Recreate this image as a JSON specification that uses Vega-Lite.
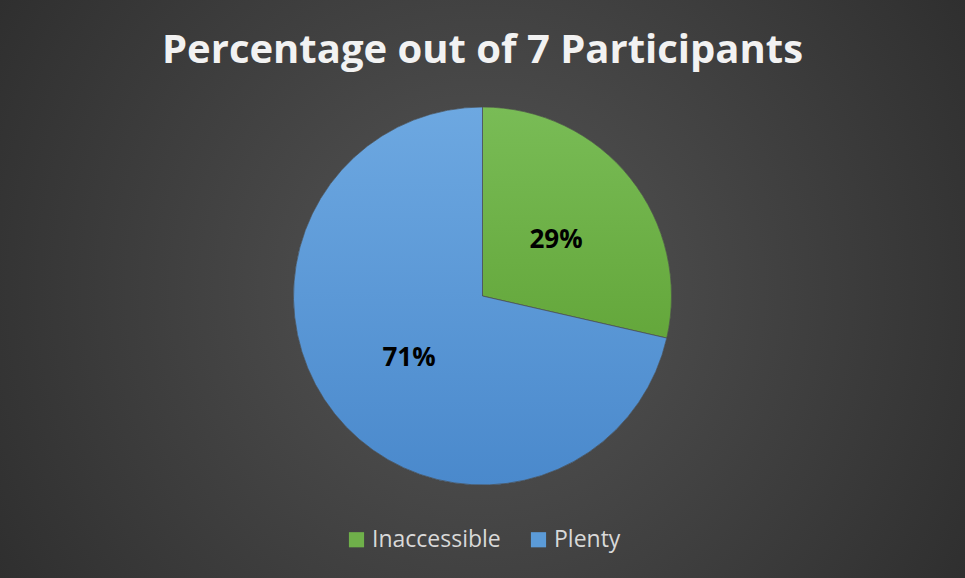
{
  "$schema": "https://vega.github.io/schema/vega-lite/v6.json",
  "width": 965,
  "height": 578,
  "autosize": {"type": "none"},
  "padding": 0,
  "background": "#2b2b2b",
  "title": {
    "text": "Percentage out of 7 Participants",
    "orient": "top",
    "anchor": "middle",
    "baseline": "alphabetic",
    "offset": -65,
    "dy": 38,
    "font": "Open Sans",
    "fontSize": 40,
    "fontWeight": "bold",
    "color": "#f2f2f2"
  },
  "config": {"view": {"stroke": null}},
  "layer": [
    {
      "data": {"values": [{"bg": 1}]},
      "mark": {
        "type": "rect",
        "fill": {
          "gradient": "radial",
          "x1": 0.5, "y1": 0.5, "r1": 0,
          "x2": 0.5, "y2": 0.5, "r2": 0.72,
          "stops": [
            {"offset": 0, "color": "#555555"},
            {"offset": 1, "color": "#262626"}
          ]
        }
      },
      "encoding": {}
    },
    {
      "data": {
        "values": [
          {"category": "Inaccessible", "count": 2, "label": "29%"},
          {"category": "Plenty", "count": 5, "label": "71%"}
        ]
      },
      "encoding": {
        "theta": {"field": "count", "type": "quantitative", "stack": true},
        "order": {"field": "category", "type": "nominal", "sort": "ascending"}
      },
      "layer": [
        {
          "mark": {"type": "arc", "outerRadius": 189, "yOffset": 7},
          "encoding": {
            "color": {
              "field": "category",
              "type": "nominal",
              "scale": {"domain": ["Inaccessible", "Plenty"], "range": ["#6fb04a", "#5b9bd8"]},
              "legend": {
                "title": null,
                "orient": "none",
                "legendX": 345,
                "legendY": 528,
                "direction": "horizontal",
                "symbolType": "square",
                "symbolSize": 230,
                "symbolStrokeWidth": 0,
                "labelFont": "Open Sans",
                "labelFontSize": 23,
                "labelColor": "#d9d9d9",
                "labelOffset": 4,
                "columnPadding": 26
              }
            }
          }
        },
        {
          "mark": {"type": "arc", "outerRadius": 189, "yOffset": 7, "stroke": "#4a4a4a", "strokeWidth": 0.7},
          "encoding": {
            "fill": {
              "condition": {
                "test": "datum.category === 'Plenty'",
                "value": {
                  "gradient": "linear", "x1": 0, "y1": 0, "x2": 0, "y2": 1,
                  "stops": [{"offset": 0, "color": "#6da8e1"}, {"offset": 1, "color": "#4a89cc"}]
                }
              },
              "value": {
                "gradient": "linear", "x1": 0, "y1": 0, "x2": 0, "y2": 1,
                "stops": [{"offset": 0, "color": "#79bc56"}, {"offset": 1, "color": "#64a73b"}]
              }
            }
          }
        },
        {
          "mark": {"type": "text", "radius": 94, "yOffset": 10, "font": "Open Sans", "fontSize": 26, "fontWeight": "bold", "color": "#000000"},
          "encoding": {"text": {"field": "label", "type": "nominal"}}
        }
      ]
    }
  ]
}
